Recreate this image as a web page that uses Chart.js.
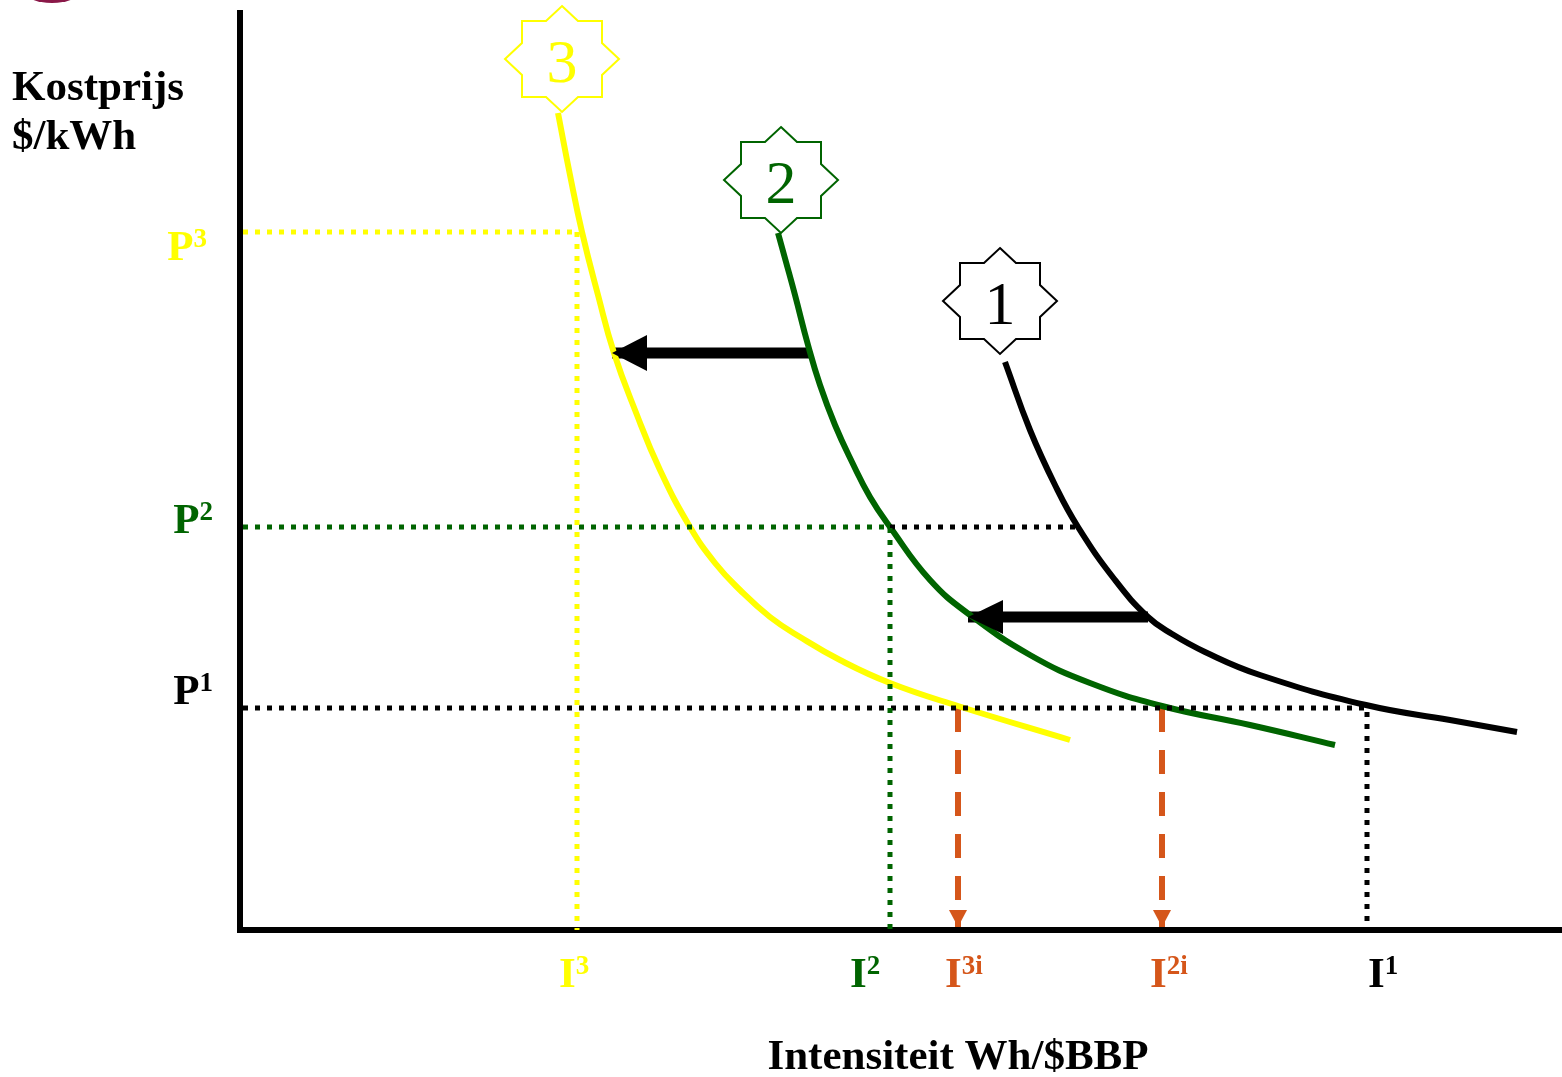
<!DOCTYPE html>
<html>
<head>
    <title>Kostprijs en intensiteit</title>
    <meta charset="utf-8">
    <script src="https://cdn.jsdelivr.net/npm/chart.js@4.4.0/dist/chart.umd.min.js"></script>
    <style>
        html, body { margin: 0; padding: 0; background: #fff; }
        canvas { display: block; }
    </style>
</head>
<body>

<canvas id="myChart" width="1562" height="1077"></canvas>

<script>
// asbereik (intensiteit x, kostprijs y)
const xMax = 13.22;
const yMax = 9.2;

// curve 1, 2, 3 (x = intensiteit, y = kostprijs)
const curve1 = [
    {x: 7.65, y: 5.68}, {x: 7.90, y: 5.00}, {x: 8.15, y: 4.45}, {x: 8.38, y: 4.03},
    {x: 8.75, y: 3.50}, {x: 9.08, y: 3.13}, {x: 9.32, y: 2.96}, {x: 9.65, y: 2.78},
    {x: 10.20, y: 2.55}, {x: 11.26, y: 2.25}, {x: 12.10, y: 2.10}, {x: 12.77, y: 1.98}
];
const curve2 = [
    {x: 5.38, y: 6.97}, {x: 5.46, y: 6.68}, {x: 5.55, y: 6.35}, {x: 5.68, y: 5.85},
    {x: 5.80, y: 5.45}, {x: 5.95, y: 5.05}, {x: 6.12, y: 4.68}, {x: 6.30, y: 4.33},
    {x: 6.50, y: 4.03}, {x: 6.90, y: 3.50}, {x: 7.30, y: 3.15}, {x: 7.90, y: 2.75},
    {x: 8.50, y: 2.47}, {x: 9.22, y: 2.24}, {x: 10.10, y: 2.05}, {x: 10.95, y: 1.85}
];
const curve3 = [
    {x: 3.18, y: 8.17}, {x: 3.30, y: 7.55}, {x: 3.42, y: 6.98}, {x: 3.58, y: 6.35},
    {x: 3.74, y: 5.77}, {x: 3.95, y: 5.20}, {x: 4.20, y: 4.60}, {x: 4.50, y: 4.03},
    {x: 4.75, y: 3.67}, {x: 5.00, y: 3.40}, {x: 5.30, y: 3.13}, {x: 5.60, y: 2.93},
    {x: 6.00, y: 2.70}, {x: 6.50, y: 2.47}, {x: 7.18, y: 2.24}, {x: 8.30, y: 1.90}
];

// prijsniveaus en intensiteiten
const priceNames = ['1', '2', '3'];
const priceValues = [2.22, 4.03, 6.98];
const intensityNames = ['1', '2', '3', '3i', '2i'];
const intensityValues = [11.27, 6.50, 3.37, 7.18, 9.22];

// verschuivingspijlen (van, naar)
const shiftArrows = [
    [{x: 5.69, y: 5.77}, {x: 3.72, y: 5.77}],
    [{x: 9.08, y: 3.13}, {x: 7.28, y: 3.13}]
];

const YELLOW = '#FFFF00';
const GREEN = '#006400';
const BLACK = '#000000';
const ORANGE = '#D5561A';

const P = priceValues, I = intensityValues;

function line(data, color, width, dash, extra) {
    return Object.assign({
        data: data,
        borderColor: color,
        borderWidth: width,
        borderDash: dash || [],
        pointRadius: 0,
        fill: false,
        tension: 0,
        borderCapStyle: 'butt',
        clip: false
    }, extra || {});
}

const DOTS = [5, 7];
const SMOOTH = {tension: 0.45};

const datasets = [
    // hulplijnen
    line([{x: 0.03, y: P[2]}, {x: I[2] + 0.06, y: P[2]}], YELLOW, 5, DOTS),
    line([{x: I[2], y: P[2]}, {x: I[2], y: 0}], YELLOW, 5, DOTS),
    line([{x: 0.03, y: P[1]}, {x: I[1], y: P[1]}, {x: I[1], y: 0}], GREEN, 5, DOTS),
    line([{x: I[1], y: P[1]}, {x: 8.38, y: P[1]}], BLACK, 5, DOTS),
    line([{x: 0.03, y: P[0]}, {x: I[0], y: P[0]}, {x: I[0], y: 0}], BLACK, 5, DOTS),
    // curves
    line(curve3, YELLOW, 6, null, SMOOTH),
    line(curve2, GREEN, 6, null, SMOOTH),
    line(curve1, BLACK, 6, null, SMOOTH),
    // oranje pijlen naar beneden
    line([{x: I[3], y: P[0]}, {x: I[3], y: 0.03}], ORANGE, 6, [24, 18], {arrowHead: [17, 18]}),
    line([{x: I[4], y: P[0]}, {x: I[4], y: 0.03}], ORANGE, 6, [24, 18], {arrowHead: [17, 18]}),
    // zwarte pijlen
    line(shiftArrows[0], BLACK, 11, null, {arrowHead: [35, 36]}),
    line(shiftArrows[1], BLACK, 11, null, {arrowHead: [35, 34]}),
    // assen
    line([{x: 0, y: yMax}, {x: 0, y: 0}, {x: xMax, y: 0}], BLACK, 6, null, {borderJoinStyle: 'miter'})
];

function drawSup(ctx, base, sup, x, y, color, align) {
    ctx.save();
    ctx.fillStyle = color;
    ctx.textBaseline = 'alphabetic';
    ctx.font = 'bold 43px "Liberation Serif", serif';
    const w1 = ctx.measureText(base).width;
    ctx.font = 'bold 27px "Liberation Serif", serif';
    const w2 = ctx.measureText(sup).width;
    let left = align === 'right' ? x - w1 - w2 : x;
    ctx.font = 'bold 43px "Liberation Serif", serif';
    ctx.textAlign = 'left';
    ctx.fillText(base, left, y);
    ctx.font = 'bold 27px "Liberation Serif", serif';
    ctx.fillText(sup, left + w1, y - 13);
    ctx.restore();
}

function drawStar(ctx, cx, cy, color, text) {
    const rx = 57, ry = 53, sx = 40, sy = 38, tx = 16, ty = 16;
    const pts = [[0, -ry], [tx, -sy], [sx, -sy], [sx, -ty], [rx, 0], [sx, ty], [sx, sy], [tx, sy],
                 [0, ry], [-tx, sy], [-sx, sy], [-sx, ty], [-rx, 0], [-sx, -ty], [-sx, -sy], [-tx, -sy]];
    ctx.save();
    ctx.beginPath();
    pts.forEach((p, i) => i ? ctx.lineTo(cx + p[0], cy + p[1]) : ctx.moveTo(cx + p[0], cy + p[1]));
    ctx.closePath();
    ctx.fillStyle = '#fff';
    ctx.fill();
    ctx.strokeStyle = color;
    ctx.lineWidth = 2;
    ctx.stroke();
    ctx.fillStyle = color;
    ctx.font = '62px "Liberation Serif", serif';
    ctx.textAlign = 'center';
    ctx.textBaseline = 'alphabetic';
    ctx.fillText(text, cx, cy + 23);
    ctx.restore();
}

const decoPlugin = {
    id: 'deco',
    afterDatasetsDraw(chart) {
        const ctx = chart.ctx;
        const xs = chart.scales.x, ys = chart.scales.y;

        // pijlpunten
        chart.data.datasets.forEach(ds => {
            if (!ds.arrowHead) return;
            const n = ds.data.length;
            const a = ds.data[n - 2], b = ds.data[n - 1];
            const x0 = xs.getPixelForValue(a.x), y0 = ys.getPixelForValue(a.y);
            const x1 = xs.getPixelForValue(b.x), y1 = ys.getPixelForValue(b.y);
            const ang = Math.atan2(y1 - y0, x1 - x0);
            const len = ds.arrowHead[0], w = ds.arrowHead[1] / 2;
            ctx.save();
            ctx.translate(x1, y1);
            ctx.rotate(ang);
            ctx.beginPath();
            ctx.moveTo(0, 0);
            ctx.lineTo(-len, -w);
            ctx.lineTo(-len, w);
            ctx.closePath();
            ctx.fillStyle = ds.borderColor;
            ctx.fill();
            ctx.restore();
        });

        // sterren boven de curves
        const stars = [[curve3, YELLOW, '3', 4, -54], [curve2, GREEN, '2', 3, -53], [curve1, BLACK, '1', -5, -61]];
        stars.forEach(s => {
            const p = s[0][0];
            drawStar(ctx, xs.getPixelForValue(p.x) + s[3], ys.getPixelForValue(p.y) + s[4], s[1], s[2]);
        });

        // P-labels
        const pColors = [BLACK, GREEN, YELLOW];
        const pDy = [-4, 6, 28];
        const pRight = [213, 213, 207];
        priceValues.forEach((v, i) => {
            drawSup(ctx, 'P', priceNames[i], pRight[i], ys.getPixelForValue(v) + pDy[i], pColors[i], 'right');
        });

        // I-labels
        const iColors = [BLACK, GREEN, YELLOW, ORANGE, ORANGE];
        const iDx = [1, -40, -18, -13, -12];
        intensityValues.forEach((v, i) => {
            drawSup(ctx, 'I', intensityNames[i], xs.getPixelForValue(v) + iDx[i], 987, iColors[i], 'left');
        });

        // astitels
        ctx.save();
        ctx.fillStyle = '#000';
        ctx.font = 'bold 43px "Liberation Serif", serif';
        ctx.textAlign = 'left';
        ctx.fillText('Kostprijs', 12, 100);
        ctx.fillText('$/kWh', 12, 149);
        ctx.textAlign = 'center';
        ctx.fillText('Intensiteit Wh/$BBP', 958, 1069);
        ctx.restore();

        // rest van logo links boven
        ctx.save();
        ctx.beginPath();
        ctx.ellipse(52, -9, 28, 12, 0, 0, Math.PI * 2);
        ctx.fillStyle = '#8A1848';
        ctx.fill();
        ctx.restore();
    }
};

const ctx = document.getElementById('myChart').getContext('2d');
const myChart = new Chart(ctx, {
    type: 'line',
    data: { datasets: datasets },
    options: {
        responsive: false,
        animation: false,
        devicePixelRatio: 1,
        layout: { padding: { left: 240, right: 0, top: 10, bottom: 147 } },
        scales: {
            x: { type: 'linear', min: 0, max: xMax, display: false },
            y: { type: 'linear', min: 0, max: yMax, display: false }
        },
        plugins: {
            legend: { display: false },
            tooltip: { enabled: false }
        }
    },
    plugins: [decoPlugin]
});
</script>

</body>
</html>
